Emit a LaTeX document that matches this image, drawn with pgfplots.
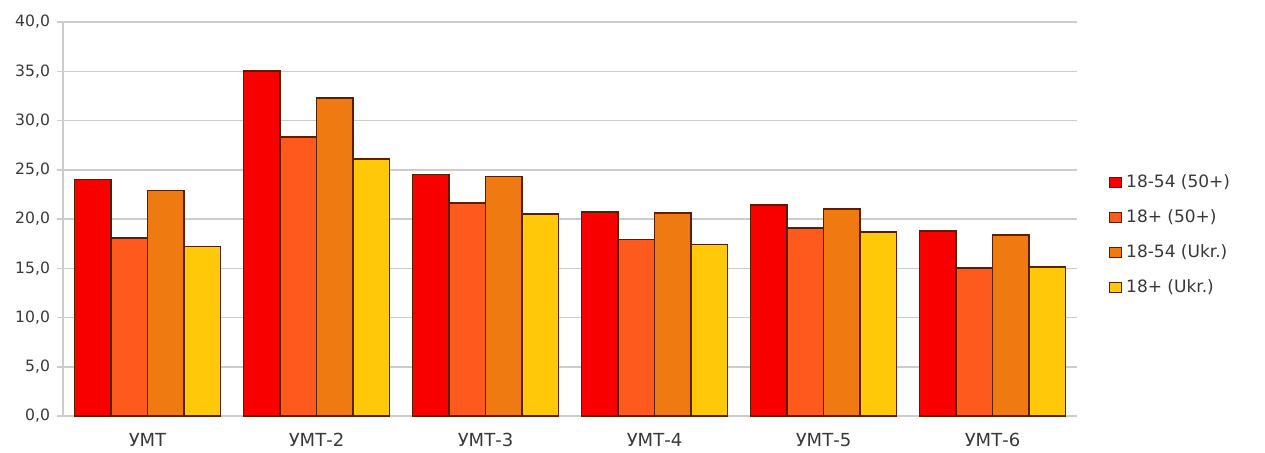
\documentclass[border=0pt]{standalone}
\usepackage{pgfplots}
\pgfplotsset{compat=1.18}
\usepackage{fontspec}
\setmainfont{DejaVu Sans}

\definecolor{cA}{HTML}{F80000}
\definecolor{cB}{HTML}{FF5A1E}
\definecolor{cC}{HTML}{F07A12}
\definecolor{cD}{HTML}{FFC808}
\definecolor{edge}{HTML}{5A1E00}
\definecolor{gridc}{HTML}{CCCCCC}
\definecolor{txt}{HTML}{383838}

\begin{document}
\begin{tikzpicture}
  \useasboundingbox (-31.5pt,-18pt) rectangle (601pt,208pt);
  \begin{axis}[
      scale only axis,
      width=507pt, height=197pt,
      ybar=0pt,
      bar width=0.216,
      xmin=-0.5, xmax=5.5,
      ymin=0, ymax=40,
      ytick={0,5,...,40},
      xtick={0,1,2,3,4,5},
      xticklabels={УМТ,УМТ-2,УМТ-3,УМТ-4,УМТ-5,УМТ-6},
      xtick style={draw=none},
      ytick style={gridc, line width=0.75pt},
      major tick length=3pt,
      tick align=outside,
      axis lines*=left,
      axis line style={gridc, line width=0.75pt},
      ymajorgrids=true,
      grid style={gridc, line width=0.75pt},
      /pgf/number format/.cd, fixed, fixed zerofill, precision=1, use comma, assume math mode=true,
      /pgfplots/.cd,
      yticklabel style={font=\fontsize{7.8}{9}\selectfont, text=txt},
      xticklabel style={font=\fontsize{9}{10}\selectfont, text=txt, yshift=-2pt},
      legend style={at={(1,0.46)}, anchor=west, xshift=16pt, draw=none, fill=none,
        inner sep=0pt, row sep=5.5pt, font=\fontsize{8.5}{10}\selectfont, text=txt,
        legend cell align=left},
      legend image code/.code={\draw[#1, line width=0.4pt] (0pt,-2.5pt) rectangle (6pt,2.5pt);},
      every axis plot/.append style={draw=edge, line width=0.8pt},
    ]
    \addplot[fill=cA] coordinates {(0,24.0) (1,35.0) (2,24.5) (3,20.7) (4,21.4) (5,18.8)};
    \addplot[fill=cB] coordinates {(0,18.1) (1,28.3) (2,21.6) (3,17.9) (4,19.1) (5,15.0)};
    \addplot[fill=cC] coordinates {(0,22.9) (1,32.3) (2,24.3) (3,20.6) (4,21.0) (5,18.4)};
    \addplot[fill=cD] coordinates {(0,17.2) (1,26.1) (2,20.5) (3,17.4) (4,18.7) (5,15.1)};
    \legend{18-54 (50+),18+ (50+),18-54 (Ukr.),18+ (Ukr.)}
  \end{axis}
\end{tikzpicture}
\end{document}
